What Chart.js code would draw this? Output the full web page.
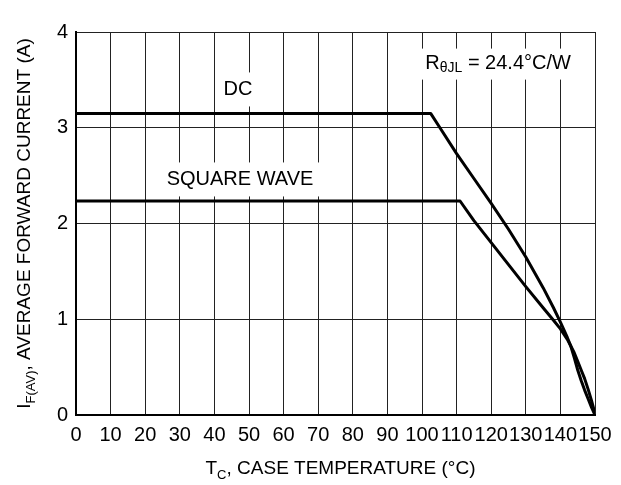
<!DOCTYPE html>
<html>
<head>
<meta charset="utf-8">
<script src="https://cdn.jsdelivr.net/npm/chart.js@4"></script>
<style>
  html, body { margin: 0; padding: 0; background: #fff; }
  #wrap { width: 621px; height: 485px; }
</style>
</head>
<body>
<div id="wrap"><canvas id="chart" width="621" height="485"></canvas></div>
<script>
// case temperature (°C) / current (A)
const dcTemp = [0, 102.5, 105, 110, 115, 120, 125, 130, 135, 138, 140, 142, 143, 144, 145, 146, 147, 148, 149, 150];
const dcCurrent = [3.15, 3.15, 3.01, 2.73, 2.47, 2.21, 1.94, 1.65, 1.33, 1.12, 0.97, 0.81, 0.72, 0.6, 0.47, 0.36, 0.26, 0.17, 0.08, 0];
const sqTemp = [0, 111, 115, 120, 125, 130, 135, 138, 140, 142, 143, 144, 145, 146, 147, 148, 149, 149.6, 150];
const sqCurrent = [2.235, 2.235, 2.03, 1.8, 1.57, 1.34, 1.12, 0.99, 0.9, 0.79, 0.72, 0.65, 0.56, 0.47, 0.38, 0.27, 0.15, 0.07, 0];

const xTicks = [0, 10, 20, 30, 40, 50, 60, 70, 80, 90, 100, 110, 120, 130, 140, 150];
const yTicks = [0, 1, 2, 3, 4];

// label anchors in data units
const labels = [
  { text: 'DC', x: 46.8, y: 3.40 },
  { text: 'SQUARE WAVE', x: 47.4, y: 2.46 },
];
const rLabel = { x: 122, y: 3.67 };

const FONT = '"Liberation Sans", Arial, Helvetica, sans-serif';

function toPoints(xs, ys) {
  return xs.map((x, i) => ({ x, y: ys[i] }));
}

// draws a run of [text, isSub] pieces starting at x (left aligned), returns end x
function drawRuns(ctx, runs, x, y, size) {
  runs.forEach(([t, sub]) => {
    ctx.font = (sub ? Math.round(size * 0.68) : size) + 'px ' + FONT;
    ctx.fillText(t, x, y + (sub ? 5 : 0));
    x += ctx.measureText(t).width;
  });
  return x;
}

function runsWidth(ctx, runs, size) {
  let w = 0;
  runs.forEach(([t, sub]) => {
    ctx.font = (sub ? Math.round(size * 0.68) : size) + 'px ' + FONT;
    w += ctx.measureText(t).width;
  });
  return w;
}

const annotations = {
  id: 'annotations',
  beforeDatasetsDraw(chart) {
    const { ctx, scales } = chart;
    ctx.save();
    ctx.textBaseline = 'middle';
    ctx.textAlign = 'left';
    labels.forEach((l) => {
      ctx.font = '20px ' + FONT;
      const w = ctx.measureText(l.text).width;
      const cx = scales.x.getPixelForValue(l.x);
      const cy = scales.y.getPixelForValue(l.y);
      ctx.fillStyle = '#fff';
      ctx.fillRect(cx - w / 2 - 7, cy - 17, w + 14, 34);
      ctx.fillStyle = '#000';
      ctx.fillText(l.text, cx - w / 2, cy);
    });

    const rRuns = [['R', false], ['θJL', true], [' = 24.4°C/W', false]];
    const rw = runsWidth(ctx, rRuns, 20);
    const rx = scales.x.getPixelForValue(rLabel.x);
    const ry = scales.y.getPixelForValue(rLabel.y);
    ctx.fillStyle = '#fff';
    ctx.fillRect(rx - rw / 2 - 26, ry - 15, rw + 46, 31);
    ctx.fillStyle = '#000';
    drawRuns(ctx, rRuns, rx - rw / 2, ry, 20);
    ctx.restore();
  },
  afterDraw(chart) {
    const { ctx, chartArea } = chart;
    ctx.save();
    ctx.fillStyle = '#000';
    ctx.textBaseline = 'alphabetic';
    ctx.textAlign = 'left';

    // x axis title
    const xRuns = [['T', false], ['C', true], [', CASE TEMPERATURE (°C)', false]];
    const xw = runsWidth(ctx, xRuns, 19);
    const xc = (chartArea.left + chartArea.right) / 2 + 5;
    drawRuns(ctx, xRuns, xc - xw / 2, 474, 19);

    // y axis title
    const yRuns = [['I', false], ['F(AV)', true], [', AVERAGE FORWARD CURRENT (A)', false]];
    const yw = runsWidth(ctx, yRuns, 19);
    ctx.translate(30, (chartArea.top + chartArea.bottom) / 2);
    ctx.rotate(-Math.PI / 2);
    drawRuns(ctx, yRuns, -yw / 2, 0, 19);
    ctx.restore();
  },
};

new Chart(document.getElementById('chart'), {
  type: 'scatter',
  data: {
    datasets: [
      {
        label: 'DC',
        data: toPoints(dcTemp, dcCurrent),
        showLine: true,
        borderColor: '#000',
        borderWidth: 3,
        pointRadius: 0,
        tension: 0,
        borderJoinStyle: 'round',
      },
      {
        label: 'SQUARE WAVE',
        data: toPoints(sqTemp, sqCurrent),
        showLine: true,
        borderColor: '#000',
        borderWidth: 3,
        pointRadius: 0,
        tension: 0,
        borderJoinStyle: 'round',
      },
    ],
  },
  options: {
    responsive: false,
    animation: false,
    events: [],
    layout: { padding: { left: 0, top: 32, right: 26, bottom: 0 } },
    scales: {
      x: {
        type: 'linear',
        min: 0,
        max: 150,
        afterBuildTicks: (s) => { s.ticks = xTicks.map((v) => ({ value: v })); },
        afterFit: (s) => { s.height = 70; },
        ticks: { color: '#000', font: { family: FONT, size: 20 }, padding: 8, maxRotation: 0, autoSkip: false },
        grid: { color: '#222', lineWidth: 1, drawTicks: false },
        border: { display: true, color: '#000', width: 2 },
      },
      y: {
        type: 'linear',
        min: 0,
        max: 4,
        afterBuildTicks: (s) => { s.ticks = yTicks.map((v) => ({ value: v })); },
        afterFit: (s) => { s.width = 76; },
        ticks: { color: '#000', font: { family: FONT, size: 20 }, padding: 8 },
        grid: { color: '#222', lineWidth: 1, drawTicks: false },
        border: { display: true, color: '#000', width: 2 },
      },
    },
    plugins: {
      legend: { display: false },
      tooltip: { enabled: false },
    },
  },
  plugins: [annotations],
});
</script>
</body>
</html>
